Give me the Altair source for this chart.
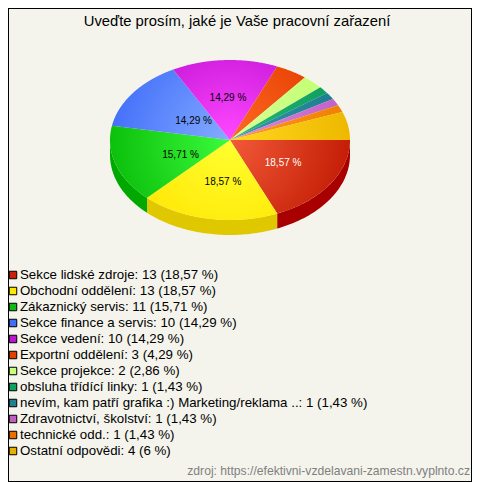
import altair as alt
import numpy as np
import pandas as pd

TITLE = "Uveďte prosím, jaké je Vaše pracovní zařazení"
SOURCE = "zdroj: https://efektivni-vzdelavani-zamestn.vyplnto.cz"
categories = ["Sekce lidské zdroje", "Obchodní oddělení", "Zákaznický servis",
              "Sekce finance a servis", "Sekce vedení", "Exportní oddělení",
              "Sekce projekce", "obsluha třídící linky",
              "nevím, kam patří grafika :) Marketing/reklama ..",
              "Zdravotnictví, školství", "technické odd.", "Ostatní odpovědi"]
counts = [13, 13, 11, 10, 10, 3, 2, 1, 1, 1, 1, 4]
percent_text = ["18,57", "18,57", "15,71", "14,29", "14,29", "4,29", "2,86",
                "1,43", "1,43", "1,43", "1,43", "6"]
labelled = 5
inner = ["#f25a38", "#ffff30", "#3cfb3c", "#84acff", "#ff48ff", "#ff6a24",
         "#d8ff98", "#28b878", "#3498a8", "#e088e0", "#ff9a20", "#ffd820"]
outer = ["#c41e06", "#ffe400", "#0cc00c", "#4470fa", "#c010d4", "#e43c00",
         "#c0ff70", "#0c9c5c", "#1c7c90", "#c060c4", "#f08000", "#eeb800"]
swatch = ["#c8200a", "#ffe800", "#10b818", "#4070f0", "#b818c8", "#e04000",
          "#c8ff80", "#10a060", "#208090", "#c060c0", "#e87000", "#e8b000"]
wall = ["#a80000", "#e0c800", "#00a800"]
label_colors = ["#ffffff", "#000000", "#000000", "#000000", "#000000"]
label_reach_x = [0.53, 0.33, 0.433, 0.375, 0.38]
label_reach_y = [0.52, 0.53, 0.60, 0.40, 0.53]

W, H = 464, 474
CX, CY, RX, RY, DEPTH = 222, 132, 120, 80, 15
BG = "#f4f4ec"

xs = alt.Scale(domain=[-1, 1], range=[CX - RX, CX + RX])
ys = alt.Scale(domain=[-1, 1], range=[CY + RY, CY - RY])
total = sum(counts)
edges = np.cumsum([0] + counts) / total * 2 * np.pi


def polygon(points, color):
    df = pd.DataFrame(points, columns=["x", "y"])
    df["i"] = range(len(df))
    return alt.Chart(df).mark_line(
        fill=color, stroke=None, filled=True, clip=False
    ).encode(
        x=alt.X("x:Q", scale=xs, axis=None),
        y=alt.Y("y:Q", scale=ys, axis=None),
        order="i:Q",
    )


layers = []
# side wall of the front half of the pie
dy = DEPTH / RY
for i in range(len(counts)):
    a0, a1 = edges[i], min(edges[i + 1], np.pi)
    if a0 >= np.pi:
        break
    t = np.linspace(a0, a1, 60)
    top = np.c_[np.cos(t), -np.sin(t)]
    low = top[::-1] - [0, dy]
    layers.append(polygon(np.r_[top, low, top[:1]], wall[i]))

# top surface, gradient centred on the pie centre
for i in range(len(counts)):
    t = np.linspace(edges[i], edges[i + 1], max(8, counts[i] * 12))
    rim = np.c_[np.cos(t), -np.sin(t)]
    pts = np.r_[[[0, 0]], rim, [[0, 0]]]
    px = pts[:, 0] * RX
    py = -pts[:, 1] * RY
    x0, x1, y0, y1 = px.min(), px.max(), py.min(), py.max()
    side = max(x1 - x0, y1 - y0)
    u = 0.5 + (0 - (x0 + x1) / 2) / side
    v = 0.5 + (0 - (y0 + y1) / 2) / side
    grad = {
        "gradient": "radial", "x1": u, "y1": v, "r1": 0,
        "x2": u, "y2": v, "r2": RX / side,
        "stops": [{"offset": 0, "color": inner[i]},
                  {"offset": 1, "color": outer[i]}],
    }
    layers.append(polygon(pts, grad))

# percentage labels
mids = (edges[:-1] + edges[1:]) / 2
lab = pd.DataFrame({
    "lx": [label_reach_x[i] * np.cos(mids[i]) for i in range(labelled)],
    "ly": [-label_reach_y[i] * np.sin(mids[i]) for i in range(labelled)],
    "t": [percent_text[i] + " %" for i in range(labelled)],
    "c": label_colors,
})
layers.append(alt.Chart(lab).mark_text(
    font="Liberation Sans", fontSize=10, baseline="middle", align="center"
).encode(
    x=alt.X("lx:Q", scale=xs, axis=None),
    y=alt.Y("ly:Q", scale=ys, axis=None),
    text="t:N",
    color=alt.Color("c:N", scale=None),
))

# legend rows
leg = pd.DataFrame({
    "row": range(len(categories)),
    "t": [f"{c}: {n} ({p} %)" for c, n, p in zip(categories, counts, percent_text)],
    "c": swatch,
})
legs = alt.Scale(domain=[0, 11], range=[267, 443])
rowsY = alt.Y("row:Q", scale=legs, axis=None)
layers.append(alt.Chart(leg).mark_square(
    size=56, stroke="#000000", strokeWidth=1, opacity=1, filled=True
).encode(
    x=alt.value(5), y=rowsY,
    fill=alt.Fill("c:N", scale=None),
))
layers.append(alt.Chart(leg).mark_text(
    font="Liberation Sans", fontSize=13.3, align="left", baseline="middle",
    color="#000000"
).encode(x=alt.value(12), y=rowsY, text="t:N"))

# source note
layers.append(alt.Chart(pd.DataFrame({"t": [SOURCE]})).mark_text(
    font="Liberation Sans", fontSize=12.15, align="right", baseline="middle",
    color="#808080"
).encode(x=alt.value(462), y=alt.value(463), text="t:N"))

chart = alt.layer(*layers).resolve_scale(
    x="independent", y="independent", color="independent", fill="independent"
).properties(
    width=W, height=H, padding=0, background=BG,
    autosize=alt.AutoSizeParams(type="none"),
    title=alt.TitleParams(
        TITLE, font="Liberation Sans", fontSize=14.8, fontWeight="normal",
        color="#000000", anchor="middle", dx=-3, dy=25,
    ),
).configure_view(stroke="#000000", strokeWidth=2)

chart.save("out.html", embed_options={"renderer": "svg", "actions": False})
